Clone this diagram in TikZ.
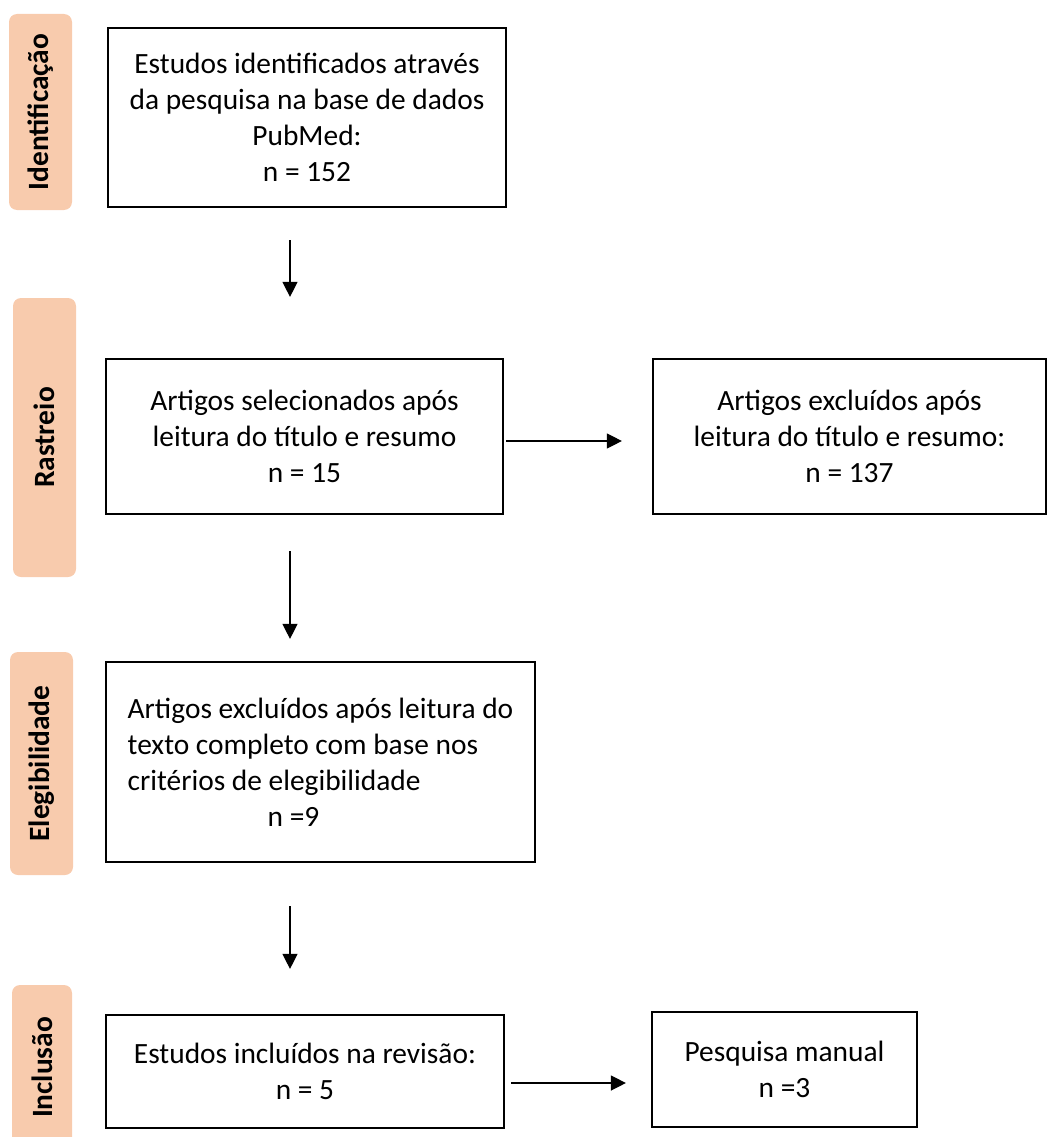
\documentclass[tikz,border=0pt]{standalone}
\usepackage{fontspec}
\setmainfont{Carlito}
\usepackage{tikz}
\usetikzlibrary{arrows.meta,calc}
\definecolor{stagefill}{HTML}{F8CBAD}
\tikzset{
  blk/.style   = {rectangle, draw=black, line width=2.2pt, align=center,
                  inner sep=0pt, font=\fontsize{29.4}{36}\selectfont},
  stage/.style = {rectangle, rounded corners=8pt, fill=stagefill, rotate=90,
                  inner sep=0pt, font=\fontsize{29.4}{36}\selectfont\bfseries},
  ar/.style    = {-{Triangle[length=15pt,width=15pt]}, line width=1.3pt}
}

\begin{document}
\begin{tikzpicture}[x=1pt,y=-1pt]
    \useasboundingbox (0,0) rectangle (1048,1137);

    % ---- Stage tabs ----
    \node[stage, minimum width=196pt, minimum height=63pt] (sid) at (40.5,112) {Identificação};
    \node[stage, minimum width=279pt, minimum height=63pt] (sra) at (44.5,437.5) {Rastreio};
    \node[stage, minimum width=223pt, minimum height=63pt] (sel) at (41.5,763.5) {Elegibilidade};
    \node[stage, minimum width=165pt, minimum height=60pt] (sin) at (42,1067.5) {Inclusão};

    % ---- Boxes ----
    \node[blk, minimum width=398pt, minimum height=179pt] (ident) at (307,117.5)
        {Estudos identificados através\\ da pesquisa na base de dados\\ PubMed:\\ n = 152};
    \node[blk, minimum width=397pt, minimum height=155pt] (sel1) at (304.5,436.5)
        {Artigos selecionados após\\ leitura do título e resumo\\ n = 15};
    \node[blk, minimum width=393pt, minimum height=155pt] (exc1) at (849.5,436.5)
        {Artigos excluídos após\\ leitura do título e resumo:\\ n = 137};
    \node[blk, align=left, minimum width=429pt, minimum height=200pt] (exc2) at (320.5,762)
        {Artigos excluídos após leitura do\\ texto completo com base nos\\ critérios de elegibilidade\\ \hspace*{140pt}n =9};
    \node[blk, minimum width=398pt, minimum height=113pt] (incl) at (305,1071.5)
        {Estudos incluídos na revisão:\\ n = 5};
    \node[blk, minimum width=265pt, minimum height=115pt] (man) at (784.5,1069.5)
        {Pesquisa manual\\ n =3};

    % ---- Arrows ----
    \draw[ar] ($(ident.south)+(-17,32)$) -- ($(sel1.north)+(-14.5,-61)$);
    \draw[ar] ($(sel1.south)+(-14.5,36)$) -- ($(exc2.north)+(-30.5,-22)$);
    \draw[ar] ($(exc2.south)+(-30.5,43)$) -- ($(incl.north)+(-15,-45)$);
    \draw[ar] ($(sel1.east)+(2,4.5)$) -- ($(exc1.west)+(-30,4.5)$);
    \draw[ar] ($(incl.east)+(6,11.5)$) -- ($(man.west)+(-25,13.5)$);
\end{tikzpicture}
\end{document}
